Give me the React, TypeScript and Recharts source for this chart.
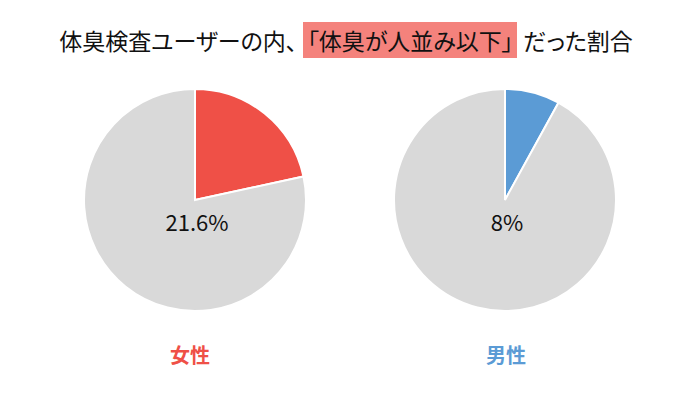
import React from 'react'
import { PieChart, Pie, Cell } from 'recharts'

const groups = ['女性', '男性']
const belowAverage = [21.6, 8]
const sliceColors = ['#EF5047', '#5B9BD5']
const restColor = '#D9D9D9'

const titleBefore = '体臭検査ユーザーの内、'
const titleHighlight = '「体臭が人並み以下」'
const titleAfter = 'だった割合'

const centers = [195, 505]
const cy = 200
const radius = 111
const font = '"Noto Sans CJK JP", "Noto Sans", sans-serif'

export default function App() {
  return (
    <div
      style={{
        position: 'absolute',
        left: 0,
        top: 0,
        width: 700,
        height: 400,
        background: '#fff',
        fontFamily: font,
      }}
    >
      <div
        style={{
          position: 'absolute',
          left: -4,
          top: 22,
          width: 700,
          textAlign: 'center',
          fontSize: 23,
          lineHeight: '36px',
          color: '#111',
          whiteSpace: 'nowrap',
          fontFeatureSettings: '"palt"',
        }}
      >
        {titleBefore}
        <span
          style={{
            background: '#F4827C',
            padding: '0px 4px',
            margin: '0 6px 0 6px',
            display: 'inline-block',
            height: 36,
          }}
        >
          {titleHighlight}
        </span>
        {titleAfter}
      </div>
      <PieChart width={700} height={400} margin={{ top: 0, right: 0, bottom: 0, left: 0 }}>
        {belowAverage.map((v, i) => (
          <Pie
            key={groups[i]}
            data={[
              { name: groups[i], value: v },
              { name: 'その他', value: 100 - v },
            ]}
            dataKey="value"
            cx={centers[i]}
            cy={cy}
            outerRadius={radius}
            startAngle={90}
            endAngle={-270}
            stroke="#fff"
            strokeWidth={2}
            isAnimationActive={false}
          >
            <Cell fill={sliceColors[i]} />
            <Cell fill={restColor} />
          </Pie>
        ))}
      </PieChart>
      {belowAverage.map((v, i) => (
        <div
          key={'pct' + i}
          style={{
            position: 'absolute',
            left: centers[i] - 60 + 2,
            top: 207,
            width: 120,
            textAlign: 'center',
            fontSize: 22,
            lineHeight: '28px',
            color: '#111',
          }}
        >
          {v}%
        </div>
      ))}
      {groups.map((g, i) => (
        <div
          key={g}
          style={{
            position: 'absolute',
            left: centers[i] - 60 + (i === 0 ? -5 : 1),
            top: 341,
            width: 120,
            textAlign: 'center',
            fontSize: 20,
            fontWeight: 700,
            lineHeight: '28px',
            color: sliceColors[i],
          }}
        >
          {g}
        </div>
      ))}
    </div>
  )
}
